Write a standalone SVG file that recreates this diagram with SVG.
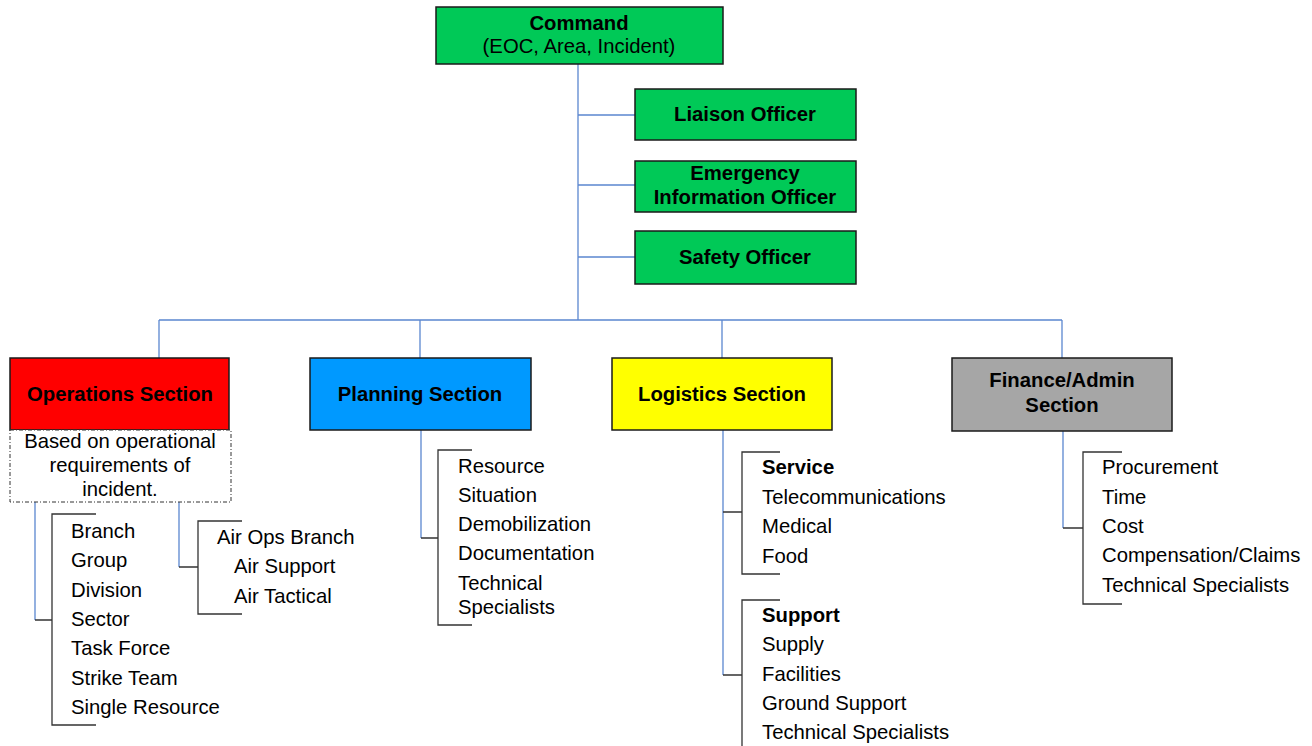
<svg xmlns="http://www.w3.org/2000/svg" width="1312" height="746" viewBox="0 0 1312 746">
<style>
text{font-family:"Liberation Sans",Arial,sans-serif;font-size:20.3px;fill:#000}
.b{font-weight:bold}
.c{text-anchor:middle}
.box{stroke:#1a1a1a;stroke-width:1.5}
.blue{stroke:#5b87d0;stroke-width:1.3;fill:none}
.br{stroke:#333;stroke-width:1.3;fill:none}
</style>
<rect width="1312" height="746" fill="#fff"/>
<g id="connectors">
<path class="blue" d="M578 64V320M578 115H635M578 185H635M578 257H635M159 320H1062M159 320V358M420 320V358M722 320V358M1062 320V358"/>
<path class="blue" d="M35 502V620M179 502V567M421 430V538M723 430V675M1063 431V528"/>
<path class="br" d="M35 620H52M96 514H52V725H96"/>
<path class="br" d="M179 567H198M242 521H198V614H242"/>
<path class="br" d="M421 538H438M472 450H438V625H472"/>
<path class="br" d="M723 512H742M780 452H742V574H780"/>
<path class="br" d="M723 675H742M780 600H742V746"/>
<path class="br" d="M1063 528H1083M1122 452H1083V604H1122"/>
</g>
<g id="command">
<rect class="box" x="436" y="7" width="287" height="57" fill="#00c957"/>
<text class="b c" x="579" y="30">Command</text>
<text class="c" x="579" y="53">(EOC, Area, Incident)</text>
</g>
<g id="liaison">
<rect class="box" x="635" y="89" width="221" height="51" fill="#00c957"/>
<text class="b c" x="745" y="121">Liaison Officer</text>
</g>
<g id="emergency">
<rect class="box" x="635" y="161" width="221" height="51" fill="#00c957"/>
<text class="b c" x="745" y="180">Emergency</text>
<text class="b c" x="745" y="204">Information Officer</text>
</g>
<g id="safety">
<rect class="box" x="635" y="231" width="221" height="53" fill="#00c957"/>
<text class="b c" x="745" y="264">Safety Officer</text>
</g>
<g id="operations">
<rect class="box" x="10" y="358" width="219" height="72" fill="#ff0000"/>
<text class="b c" x="120" y="401">Operations Section</text>
</g>
<g id="ops-note">
<rect x="10" y="430" width="221" height="72" fill="#fff" stroke="#333" stroke-width="1" stroke-dasharray="4 2 1 2"/>
<text class="c" x="120" y="448">Based on operational</text>
<text class="c" x="120" y="472">requirements of</text>
<text class="c" x="120" y="496">incident.</text>
</g>
<g id="ops-list">
<text x="71" y="538">Branch</text>
<text x="71" y="567">Group</text>
<text x="71" y="597">Division</text>
<text x="71" y="626">Sector</text>
<text x="71" y="655">Task Force</text>
<text x="71" y="685">Strike Team</text>
<text x="71" y="714">Single Resource</text>
</g>
<g id="air-ops">
<text x="217" y="544">Air Ops Branch</text>
<text x="234" y="573">Air Support</text>
<text x="234" y="603">Air Tactical</text>
</g>
<g id="planning">
<rect class="box" x="310" y="358" width="221" height="72" fill="#0099ff"/>
<text class="b c" x="420" y="401">Planning Section</text>
</g>
<g id="planning-list">
<text x="458" y="473">Resource</text>
<text x="458" y="502">Situation</text>
<text x="458" y="531">Demobilization</text>
<text x="458" y="560">Documentation</text>
<text x="458" y="590">Technical</text>
<text x="458" y="614">Specialists</text>
</g>
<g id="logistics">
<rect class="box" x="612" y="358" width="220" height="72" fill="#ffff00"/>
<text class="b c" x="722" y="401">Logistics Section</text>
</g>
<g id="service">
<text class="b" x="762" y="474">Service</text>
<text x="762" y="504">Telecommunications</text>
<text x="762" y="533">Medical</text>
<text x="762" y="563">Food</text>
</g>
<g id="support">
<text class="b" x="762" y="622">Support</text>
<text x="762" y="651">Supply</text>
<text x="762" y="681">Facilities</text>
<text x="762" y="710">Ground Support</text>
<text x="762" y="739">Technical Specialists</text>
</g>
<g id="finance">
<rect class="box" x="952" y="358" width="220" height="73" fill="#a6a6a6"/>
<text class="b c" x="1062" y="387">Finance/Admin</text>
<text class="b c" x="1062" y="412">Section</text>
</g>
<g id="finance-list">
<text x="1102" y="474">Procurement</text>
<text x="1102" y="504">Time</text>
<text x="1102" y="533">Cost</text>
<text x="1102" y="562">Compensation/Claims</text>
<text x="1102" y="592">Technical Specialists</text>
</g>
</svg>
